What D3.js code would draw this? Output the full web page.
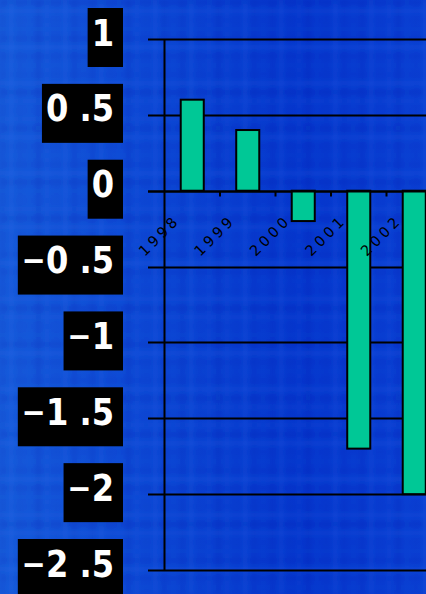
<!DOCTYPE html>
<html>
<head>
<meta charset="utf-8">
<script src="https://cdn.jsdelivr.net/npm/d3@7"></script>
<style>
  html, body { margin: 0; padding: 0; background: #0a40d0; overflow: hidden; }
  svg { display: block; }
</style>
</head>
<body>
<svg id="chart" width="426" height="594"></svg>
<script>
// Annual change by year
const years = ["1998", "1999", "2000", "2001", "2002"];
const values = [0.6, 0.4, -0.2, -1.7, -2.0];
const yTicks = [1, 0.5, 0, -0.5, -1, -1.5, -2, -2.5];
const yTickLabels = ["1", "0 .5", "0", "−0 .5", "−1", "−1 .5", "−2", "−2 .5"];

const W = 426, H = 594;
const svg = d3.select("#chart");
const defs = svg.append("defs");

// ---- textured blue backdrop ----
const grad = defs.append("linearGradient").attr("id", "bg").attr("x1", 0).attr("x2", 1).attr("y1", 0).attr("y2", 0);
grad.append("stop").attr("offset", "0%").attr("stop-color", "#1659d9");
grad.append("stop").attr("offset", "35%").attr("stop-color", "#0c46d3");
grad.append("stop").attr("offset", "70%").attr("stop-color", "#0536cc");
grad.append("stop").attr("offset", "100%").attr("stop-color", "#0a3fd2");
defs.append("filter").attr("id", "soft").attr("x", 0).attr("y", 0).attr("width", 1).attr("height", 1)
  .append("feGaussianBlur").attr("stdDeviation", 2.2);

svg.append("rect").attr("width", W).attr("height", H).attr("fill", "url(#bg)");
const tex = svg.append("g").attr("filter", "url(#soft)");
const step = 9;
d3.range(0, W / step + 1).forEach(i => {
  const a = 0.06 + 0.05 * Math.sin(i * 1.9);
  tex.append("rect").attr("x", i * step).attr("y", 0).attr("width", step / 2).attr("height", H)
    .attr("fill", i % 2 ? "#3d86ff" : "#001a9a").attr("opacity", Math.abs(a));
});
d3.range(0, H / step + 1).forEach(i => {
  const a = 0.06 + 0.05 * Math.cos(i * 1.3);
  tex.append("rect").attr("x", 0).attr("y", i * step).attr("width", W).attr("height", step / 2)
    .attr("fill", i % 2 ? "#3d86ff" : "#001a9a").attr("opacity", Math.abs(a));
});

// ---- scales ----
const y = d3.scaleLinear().domain([-2.5, 1]).range([570, 39]);
const x0 = 164.5, catStep = 55.5;
const x = d3.scaleBand().domain(years)
  .range([x0, x0 + catStep * years.length])
  .paddingInner(0.585).paddingOuter(0.2925);

// ---- horizontal gridlines ----
svg.append("g").selectAll("line").data(yTicks).join("line")
  .attr("x1", 148).attr("x2", W + 2)
  .attr("y1", d => Math.round(y(d)) + 0.5).attr("y2", d => Math.round(y(d)) + 0.5)
  .attr("stroke", "#000").attr("stroke-width", 2);

// ---- bars ----
svg.append("g").selectAll("rect").data(years).join("rect")
  .attr("x", d => x(d))
  .attr("width", x.bandwidth())
  .attr("y", (d, i) => y(Math.max(0, values[i])))
  .attr("height", (d, i) => Math.abs(y(values[i]) - y(0)))
  .attr("fill", "#00c896")
  .attr("stroke", "#000").attr("stroke-width", 2);

// ---- value axis line ----
svg.append("line").attr("x1", x0).attr("x2", x0).attr("y1", y(1)).attr("y2", y(-2.5) + 1)
  .attr("stroke", "#000").attr("stroke-width", 2);

// ---- category axis along zero ----
const zeroY = Math.round(y(0)) + 0.5;
svg.append("line").attr("x1", 148).attr("x2", W + 2).attr("y1", zeroY).attr("y2", zeroY)
  .attr("stroke", "#000").attr("stroke-width", 2);
svg.append("g").selectAll("line").data(d3.range(1, years.length + 1)).join("line")
  .attr("x1", i => x0 + i * catStep).attr("x2", i => x0 + i * catStep)
  .attr("y1", zeroY).attr("y2", zeroY + 5)
  .attr("stroke", "#000").attr("stroke-width", 2);

// rotated year labels (trailing letter-spacing compensated along the baseline)
const ls = 3.5, k = Math.SQRT1_2;
svg.append("g").selectAll("text").data(years).join("text")
  .attr("transform", d => `translate(${x(d) + x.bandwidth() / 2 - 14 + ls * k},${zeroY + 32 - ls * k}) rotate(-45)`)
  .attr("text-anchor", "end")
  .attr("font-family", "DejaVu Sans")
  .attr("font-size", 14.5)
  .attr("letter-spacing", ls)
  .attr("fill", "#000")
  .text(d => d);

// ---- value labels in black boxes ----
const yl = svg.append("g");
yTicks.forEach((v, i) => {
  const label = yTickLabels[i];
  const g = yl.append("g");
  const box = g.append("rect").attr("fill", "#000");
  const t = g.append("text")
    .attr("transform", `translate(114,${y(v) + 6.5}) scale(0.94,1)`)
    .attr("text-anchor", "end")
    .attr("font-family", "DejaVu Sans Condensed, DejaVu Sans")
    .attr("font-weight", "bold")
    .attr("font-size", 38)
    .attr("fill", "#fff");
  if (label.startsWith("−")) {
    // slightly smaller minus sign so it sits snug against the digits
    t.append("tspan").attr("font-size", 34).attr("dy", -1).text("−");
    t.append("tspan").attr("dy", 1).text(label.slice(1));
  } else {
    t.text(label);
  }
  const bb = t.node().getBBox();
  const left = 114 + bb.x * 0.94 - 4;
  box.attr("x", left).attr("width", 123 - left)
    .attr("y", y(v) - 31).attr("height", 59);
});
</script>
</body>
</html>
